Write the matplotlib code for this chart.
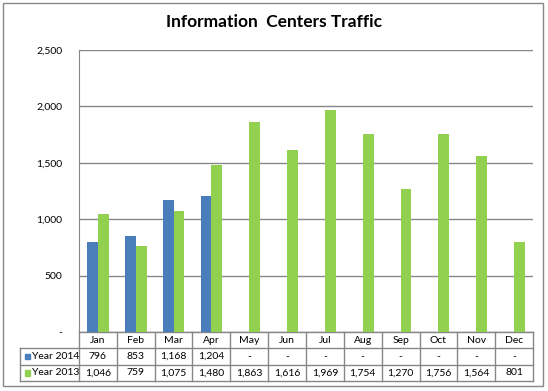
import matplotlib.pyplot as plt
import matplotlib.transforms as mtransforms
from matplotlib.patches import Rectangle

plt.rcParams["font.family"] = ["Lato", "DejaVu Sans"]

# Data
months = ["Jan", "Feb", "Mar", "Apr", "May", "Jun",
          "Jul", "Aug", "Sep", "Oct", "Nov", "Dec"]
year_2014 = [796, 853, 1168, 1204, None, None, None, None, None, None, None, None]
year_2013 = [1046, 759, 1075, 1480, 1863, 1616, 1969, 1754, 1270, 1756, 1564, 801]
series_names = ["Year 2014", "Year 2013"]
series_colors = ["#4A7EBB", "#92D050"]
y_ticks = [0, 500, 1000, 1500, 2000, 2500]

W, H = 548, 391
fig = plt.figure(figsize=(W / 100, H / 100), dpi=100)

# Outer chart border
fig.patches.append(Rectangle((3 / W, 5 / H), 540 / W, 383 / H, transform=fig.transFigure,
                             fill=False, edgecolor="#868686", linewidth=1))

ax_left, ax_right, ax_top, ax_bot = 79, 533, 50, 332
ax = fig.add_axes([ax_left / W, 1 - ax_bot / H, (ax_right - ax_left) / W, (ax_bot - ax_top) / H])

# Bars
bar_w = 1 / 3.5
x = list(range(len(months)))
vals14 = [v if v is not None else 0 for v in year_2014]
ax.bar([i - bar_w / 2 for i in x], vals14, width=bar_w, color=series_colors[0], zorder=3)
ax.bar([i + bar_w / 2 for i in x], year_2013, width=bar_w, color=series_colors[1], zorder=3)

ax.set_xlim(-0.5, len(months) - 0.5)
ax.set_ylim(0, 2500)
ax.set_yticks(y_ticks)
ax.set_yticklabels(["-" if t == 0 else f"{t:,}" for t in y_ticks], fontsize=7.5)
ax.tick_params(axis="y", length=0, pad=12)
ax.set_xticks([])
ax.grid(axis="y", color="#868686", linewidth=1, zorder=0)
for s in ["top", "right", "bottom"]:
    ax.spines[s].set_visible(False)
ax.spines["left"].set_color("#868686")

# Title
fig.text(0.5, 1 - 22 / H, "Information  Centers Traffic", ha="center", va="center",
         fontsize=12.5, fontweight="bold")

# Data table under the axes
row_h = 16.3 / (ax_bot - ax_top)
trans = mtransforms.blended_transform_factory(ax.transData, ax.transAxes)
line_kw = dict(color="#868686", linewidth=1, clip_on=False, transform=trans)
x0, x1 = -0.5, len(months) - 0.5
label_left = x0 - (ax_left - 20) / ((ax_right - ax_left) / len(months))

# horizontal lines
ax.plot([x0, x1], [0, 0], **line_kw)
for r in range(1, 4):
    ax.plot([label_left, x1], [-r * row_h, -r * row_h], **line_kw)
# vertical lines
for c in range(len(months) + 1):
    ax.plot([x0 + c, x0 + c], [0, -3 * row_h], **line_kw)
ax.plot([label_left, label_left], [-row_h, -3 * row_h], **line_kw)

fs = 7.5
for i, m in enumerate(months):
    ax.text(i, -0.5 * row_h, m, transform=trans, ha="center", va="center", fontsize=fs)
    v14 = year_2014[i]
    ax.text(i, -1.5 * row_h, "-" if v14 is None else f"{v14:,}", transform=trans,
            ha="center", va="center", fontsize=fs)
    ax.text(i, -2.5 * row_h, f"{year_2013[i]:,}", transform=trans,
            ha="center", va="center", fontsize=fs)

# Row labels with legend keys
px_to_data = len(months) / (ax_right - ax_left)
for r, (name, col) in enumerate(zip(series_names, series_colors)):
    yc = -(1.5 + r) * row_h
    key_x = label_left + 4.5 * px_to_data
    ax.add_patch(Rectangle((key_x, yc - 0.5 * 5.5 / (ax_bot - ax_top)), 5.5 * px_to_data,
                           5.5 / (ax_bot - ax_top), transform=trans, color=col, clip_on=False))
    ax.text(key_x + 7.5 * px_to_data, yc, name, transform=trans, ha="left", va="center",
            fontsize=fs)

fig.savefig("out.png", dpi=100)
